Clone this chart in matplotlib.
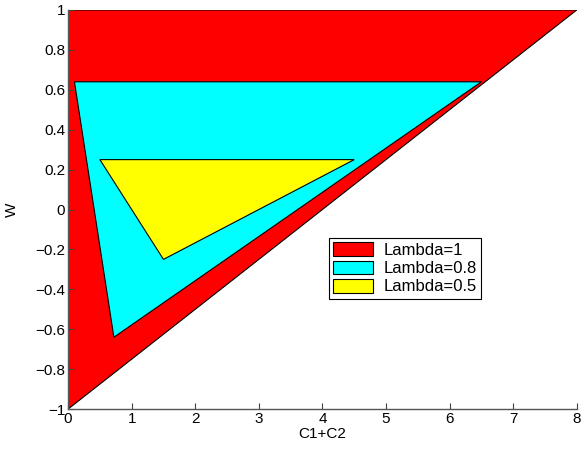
import matplotlib
matplotlib.use("Agg")
import matplotlib.pyplot as plt
from matplotlib.patches import Polygon

plt.rcParams['font.family'] = ['Liberation Sans', 'DejaVu Sans']

# triangle corners (C1+C2, W) for each lambda
labels = ["Lambda=1", "Lambda=0.8", "Lambda=0.5"]
colors = ["#ff0000", "#00ffff", "#ffff00"]
tri_x = [[0, 8, 0], [0.1, 6.5, 0.72], [0.5, 4.5, 1.5]]
tri_y = [[1, 1, -1], [0.64, 0.64, -0.64], [0.25, 0.25, -0.25]]

fig = plt.figure(figsize=(5.82, 4.53), dpi=100)
ax = fig.add_axes([0.117, 0.097, 0.874, 0.881])

for xs, ys, c, lab in zip(tri_x, tri_y, colors, labels):
    ax.add_patch(Polygon(list(zip(xs, ys)), closed=True, facecolor=c,
                         edgecolor='black', linewidth=0.8, label=lab))

ax.set_xlim(0, 8)
ax.set_ylim(-1, 1)
ax.set_xticks(range(0, 9))
ax.set_yticks([-1, -0.8, -0.6, -0.4, -0.2, 0, 0.2, 0.4, 0.6, 0.8, 1])
ax.set_yticklabels(["\u22121", "\u22120.8", "\u22120.6", "\u22120.4", "\u22120.2",
                    "0", "0.2", "0.4", "0.6", "0.8", "1"])
ax.tick_params(direction='in', length=4, labelsize=11, width=0.8, colors='#404040',
               labelcolor='black', pad=2)
ax.spines['top'].set_visible(False)
ax.spines['right'].set_visible(False)
for s in ['left', 'bottom']:
    ax.spines[s].set_linewidth(1.0)
    ax.spines[s].set_color('#555555')
ax.set_xlabel("C1+C2", fontsize=11, labelpad=1)
ax.set_ylabel("W", fontsize=11, labelpad=12)

leg = ax.legend(loc='upper left', bbox_to_anchor=(0.513, 0.428), fontsize=12,
                fancybox=False, edgecolor='black', framealpha=1,
                handlelength=2.4, handleheight=0.9, borderpad=0.25,
                labelspacing=0.15, handletextpad=0.6, borderaxespad=0)
leg.get_frame().set_linewidth(0.8)

plt.savefig("out.png", dpi=100)
